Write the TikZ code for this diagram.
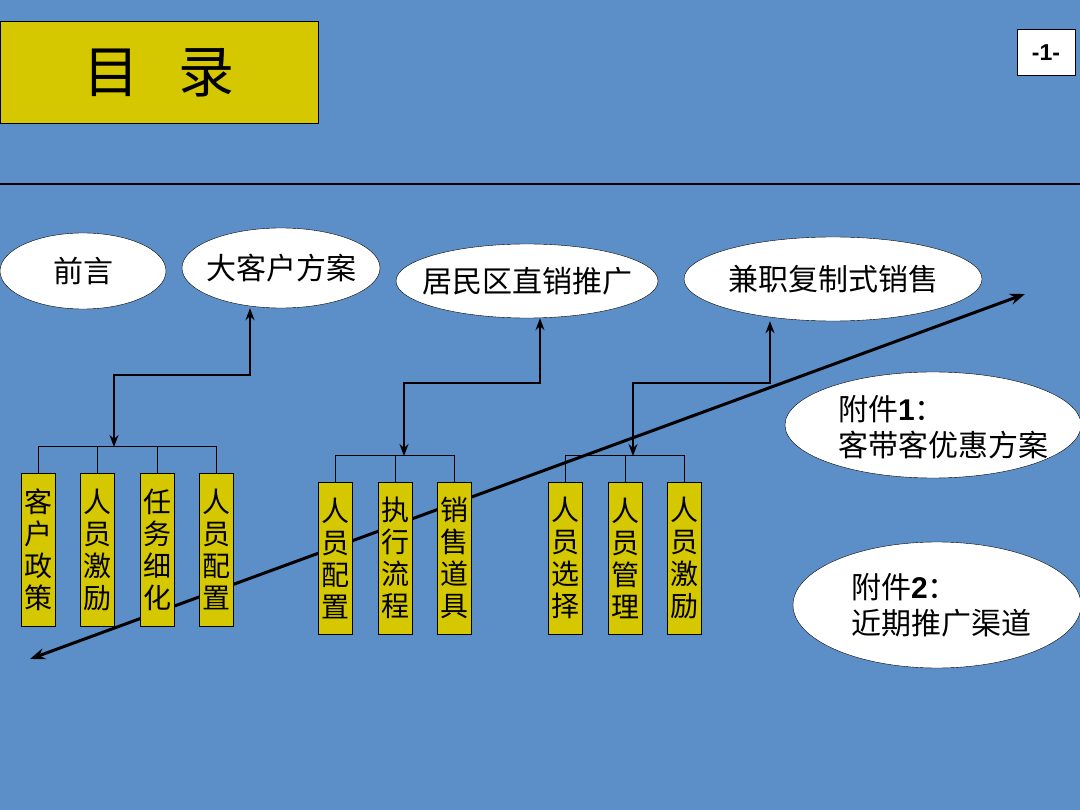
\documentclass[tikz,border=0pt]{standalone}
\usepackage{fontspec}
\setmainfont{Liberation Sans}
\newfontfamily\cjk{Noto Sans CJK SC}
\usetikzlibrary{arrows.meta,shapes.geometric}

\definecolor{slidebg}{RGB}{92,142,200}
\definecolor{boxyellow}{RGB}{214,200,0}
\newcommand{\latnum}[1]{{\normalfont\bfseries #1}}

\begin{document}
\begin{tikzpicture}[x=1pt, y=-1pt,
    topic/.style={ellipse, draw=black, fill=white, inner sep=0pt},
    topictext/.style={inner sep=0pt, align=left, font=\cjk\fontsize{30}{36}\selectfont},
    item/.style={draw=black, fill=boxyellow, minimum width=34pt, inner sep=0pt,
        align=center, font=\cjk\fontsize{28}{32}\selectfont},
    link/.style={line width=1.5pt, {Stealth[length=12pt,width=9pt]}-{Stealth[length=12pt,width=9pt]}},
    bracket/.style={line width=1pt}]
    % Background
    \fill[slidebg] (0,0) rectangle (1080,810);
    \useasboundingbox (0,0) rectangle (1080,810);

    % Title and page number
    \node[draw=black, line width=1pt, fill=boxyellow, minimum width=318pt, minimum height=102pt,
        font=\cjk\fontsize{56}{60}\selectfont] (title) at (159,73) {目\hspace{40pt}录};
    \node[draw=black, line width=1pt, fill=white, minimum width=58pt, minimum height=46pt,
        font=\bfseries\fontsize{23}{26}\selectfont] (page) at (1046,53) {-1-};
    \draw[line width=2pt] (0,184) -- (1080,184);

    % Trend arrow
    \coordinate (low) at (30,659);
    \coordinate (high) at (1025,294);
    \draw[line width=3pt, {Stealth[length=15pt,width=11pt]}-{Stealth[length=15pt,width=11pt]}] (low) -- (high);

    % Topics
    \node[topic, minimum width=166pt, minimum height=76pt, label={[topictext]center:前言}] (intro) at (83,271) {};
    \node[topic, minimum width=198pt, minimum height=80pt, label={[topictext]center:大客户方案}] (big) at (281,268) {};
    \node[topic, minimum width=262pt, minimum height=74pt, label={[topictext]center:居民区直销推广}] (resid) at (527,281) {};
    \node[topic, minimum width=298pt, minimum height=84pt, label={[topictext]center:兼职复制式销售}] (part) at (833,279) {};
    \node[topic, minimum width=296pt, minimum height=106pt,
        label={[topictext, xshift=10pt, yshift=-2pt]center:附件\latnum{1}：\\客带客优惠方案}] (att1) at (933,425) {};
    \node[topic, minimum width=288pt, minimum height=126pt,
        label={[topictext, xshift=4pt]center:附件\latnum{2}：\\近期推广渠道}] (att2) at (937,605) {};

    % Items
    \foreach \name/\x/\txt in {a1/38/{客\\户\\政\\策}, a2/97/{人\\员\\激\\励},
                               a3/157/{任\\务\\细\\化}, a4/216/{人\\员\\配\\置}} {
        \node[item, minimum height=153pt] (\name) at (\x,549.5) {\txt};
    }
    \foreach \name/\x/\txt in {b1/335/{人\\员\\配\\置}, b2/395/{执\\行\\流\\程},
                               b3/454/{销\\售\\道\\具}, c1/565/{人\\员\\选\\择},
                               c2/625/{人\\员\\管\\理}, c3/684/{人\\员\\激\\励}} {
        \node[item, minimum height=152pt] (\name) at (\x,558) {\txt};
    }

    % Brackets
    \coordinate (ja) at (114,447);
    \coordinate (jb) at (404,456);
    \coordinate (jc) at (633,456);
    \draw[bracket] (a1.north) -- (a1.north |- ja) -- (a4.north |- ja) -- (a4.north);
    \foreach \n in {a2, a3} {
        \draw[bracket] (\n.north) -- (\n.north |- ja);
    }
    \draw[bracket] (b1.north) -- (b1.north |- jb) -- (b3.north |- jb) -- (b3.north);
    \draw[bracket] (b2.north) -- (b2.north |- jb);
    \draw[bracket] (c1.north) -- (c1.north |- jc) -- (c3.north |- jc) -- (c3.north);
    \draw[bracket] (c2.north) -- (c2.north |- jc);

    % Links
    \draw[link] ([xshift=-31pt]big.south) -- ++(0,67) -| (ja);
    \draw[link] ([xshift=13pt]resid.south) -- ++(0,65) -| (jb);
    \draw[link] ([xshift=-63pt]part.south) -- ++(0,62) -| (jc);
\end{tikzpicture}
\end{document}
